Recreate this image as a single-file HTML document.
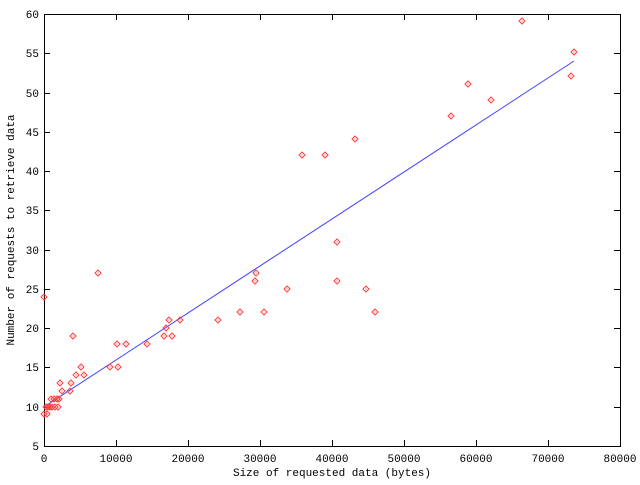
<!DOCTYPE html><html><head><style>body{margin:0;background:#fff}svg text{font-family:"Liberation Mono",monospace;font-size:11px;fill:#000}</style></head><body>
<svg width="640" height="480" xmlns="http://www.w3.org/2000/svg">
<defs><g id="m"><path d="M0,-3L3,0L0,3L-3,0Z" fill="none" stroke="#ff4040" stroke-width="1"/><rect x="-0.5" y="-0.5" width="1" height="1" fill="#ff4040"/></g></defs>
<g stroke="#000" stroke-width="1" fill="none" shape-rendering="crispEdges">
<rect x="44.5" y="14.5" width="576" height="432"/>
<path d="M44,446.5h6M44,407.5h6M44,367.5h6M44,328.5h6M44,289.5h6M44,250.5h6M44,210.5h6M44,171.5h6M44,132.5h6M44,93.5h6M44,53.5h6M44,14.5h6
M620,407.5h-6M620,367.5h-6M620,328.5h-6M620,289.5h-6M620,250.5h-6M620,210.5h-6M620,171.5h-6M620,132.5h-6M620,93.5h-6M620,53.5h-6
M116.5,446v-6M188.5,446v-6M260.5,446v-6M332.5,446v-6M404.5,446v-6M476.5,446v-6M548.5,446v-6
M116.5,14v6M188.5,14v6M260.5,14v6M332.5,14v6M404.5,14v6M476.5,14v6M548.5,14v6"/>
</g>
<g text-anchor="end">
<text x="39" y="450">5</text><text x="39" y="411">10</text><text x="39" y="371">15</text><text x="39" y="332">20</text><text x="39" y="293">25</text><text x="39" y="254">30</text><text x="39" y="214">35</text><text x="39" y="175">40</text><text x="39" y="136">45</text><text x="39" y="97">50</text><text x="39" y="57">55</text><text x="39" y="18">60</text>
</g>
<g text-anchor="middle">
<text x="44" y="462">0</text><text x="116" y="462">10000</text><text x="188" y="462">20000</text><text x="260" y="462">30000</text><text x="332" y="462">40000</text><text x="404" y="462">50000</text><text x="476" y="462">60000</text><text x="548" y="462">70000</text><text x="620" y="462">80000</text>
<text x="332" y="476">Size of requested data (bytes)</text>
<text transform="translate(14,230) rotate(-90)">Number of requests to retrieve data</text>
</g>
<line x1="44" y1="407" x2="574" y2="61" stroke="#4040ff" stroke-width="1"/>
<g>
<use href="#m" x="44" y="297"/><use href="#m" x="44" y="414"/><use href="#m" x="47" y="414"/>
<use href="#m" x="46" y="407"/><use href="#m" x="48" y="407"/><use href="#m" x="50" y="407"/><use href="#m" x="52" y="407"/><use href="#m" x="55" y="407"/><use href="#m" x="58" y="407"/>
<use href="#m" x="51" y="399"/><use href="#m" x="54" y="399"/><use href="#m" x="57" y="399"/><use href="#m" x="59" y="399"/>
<use href="#m" x="62" y="391"/><use href="#m" x="60" y="383"/><use href="#m" x="71" y="383"/><use href="#m" x="70" y="391"/>
<use href="#m" x="73" y="336"/><use href="#m" x="76" y="375"/><use href="#m" x="81" y="367"/><use href="#m" x="84" y="375"/>
<use href="#m" x="98" y="273"/><use href="#m" x="110" y="367"/><use href="#m" x="118" y="367"/><use href="#m" x="117" y="344"/>
<use href="#m" x="126" y="344"/><use href="#m" x="147" y="344"/><use href="#m" x="164" y="336"/><use href="#m" x="166" y="328"/>
<use href="#m" x="169" y="320"/><use href="#m" x="172" y="336"/><use href="#m" x="180" y="320"/><use href="#m" x="218" y="320"/>
<use href="#m" x="240" y="312"/><use href="#m" x="255" y="281"/><use href="#m" x="256" y="273"/><use href="#m" x="264" y="312"/>
<use href="#m" x="287" y="289"/><use href="#m" x="302" y="155"/><use href="#m" x="325" y="155"/><use href="#m" x="337" y="242"/>
<use href="#m" x="337" y="281"/><use href="#m" x="355" y="139"/><use href="#m" x="366" y="289"/><use href="#m" x="375" y="312"/>
<use href="#m" x="451" y="116"/><use href="#m" x="468" y="84"/><use href="#m" x="491" y="100"/><use href="#m" x="522" y="21"/>
<use href="#m" x="571" y="76"/><use href="#m" x="574" y="52"/>
</g>
</svg></body></html>
